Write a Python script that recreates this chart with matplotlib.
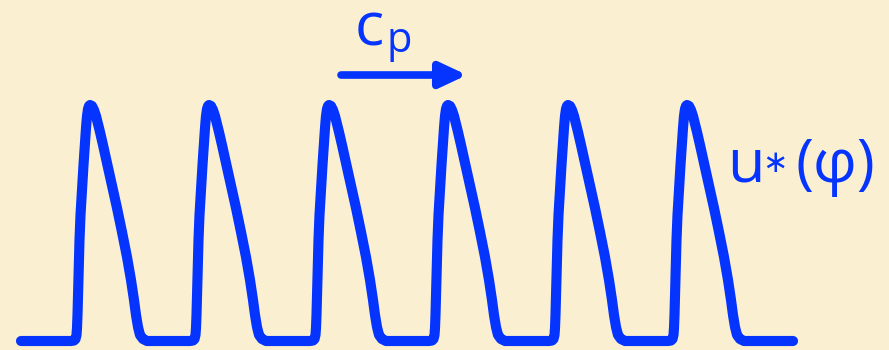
import numpy as np
import matplotlib.pyplot as plt

# pulse train u*(phi): six identical pulses travelling with speed c_p
peak_x = [90, 209, 329, 448, 568, 687]
# shape of one pulse, offsets from its peak and height (image units, y down)
pulse_dx = [-19, -16, -14.5, -13.5, -13, -12.5, -12, -11.3, -10.5, -9.5, -8,
            -6.5, -5, -4, -3, -2, -1, 0,
            2, 4, 6, 8, 10, 13, 17, 22, 27, 32, 37, 41, 44, 46, 48, 50, 53, 57]
pulse_y = [341, 340.5, 339, 335, 328, 315, 295, 270, 240, 215, 190,
           165, 142, 128, 116, 109, 106, 105,
           106, 110, 116, 124, 132, 145, 163, 185, 208, 232, 257, 280, 300, 315,
           327, 335, 339, 341]
x_start, x_end = 21, 793
baseline = 341

blue = '#0534FF'
bg = '#FAF0D1'

xs = [x_start]
ys = [baseline]
for p in peak_x:
    xs += [p + d for d in pulse_dx]
    ys += pulse_y
xs.append(x_end)
ys.append(baseline)

fig = plt.figure(figsize=(8.89, 3.5), dpi=100, facecolor=bg)
ax = fig.add_axes([0, 0, 1, 1])
ax.set_facecolor(bg)
ax.set_xlim(0, 889)
ax.set_ylim(350, 0)
ax.axis('off')

ax.plot(xs, ys, color=blue, lw=7.3, solid_capstyle='round', solid_joinstyle='round')

# speed arrow
ax.annotate('', xy=(467, 75), xytext=(341, 75),
            arrowprops=dict(arrowstyle='-|>,head_length=1.6,head_width=0.75',
                            color=blue, lw=5.5, shrinkA=0, shrinkB=0))
ax.text(355, 46, 'c', color=blue, fontsize=44, family=['Open Sans', 'DejaVu Sans'],
        ha='left', va='baseline')
ax.text(387, 52, 'p', color=blue, fontsize=30, family=['Open Sans', 'DejaVu Sans'],
        ha='left', va='baseline')

# label of the profile
ax.text(727, 182, 'u', color=blue, fontsize=44, family=['Open Sans', 'DejaVu Sans'],
        ha='left', va='baseline')
ax.text(775, 164, '∗', color=blue, fontsize=22, family=['DejaVu Sans'],
        ha='center', va='center')
ax.text(796, 182, '(φ)', color=blue, fontsize=44, family=['Open Sans', 'DejaVu Sans'],
        ha='left', va='baseline')

fig.savefig('out.png', dpi=100, facecolor=bg)
